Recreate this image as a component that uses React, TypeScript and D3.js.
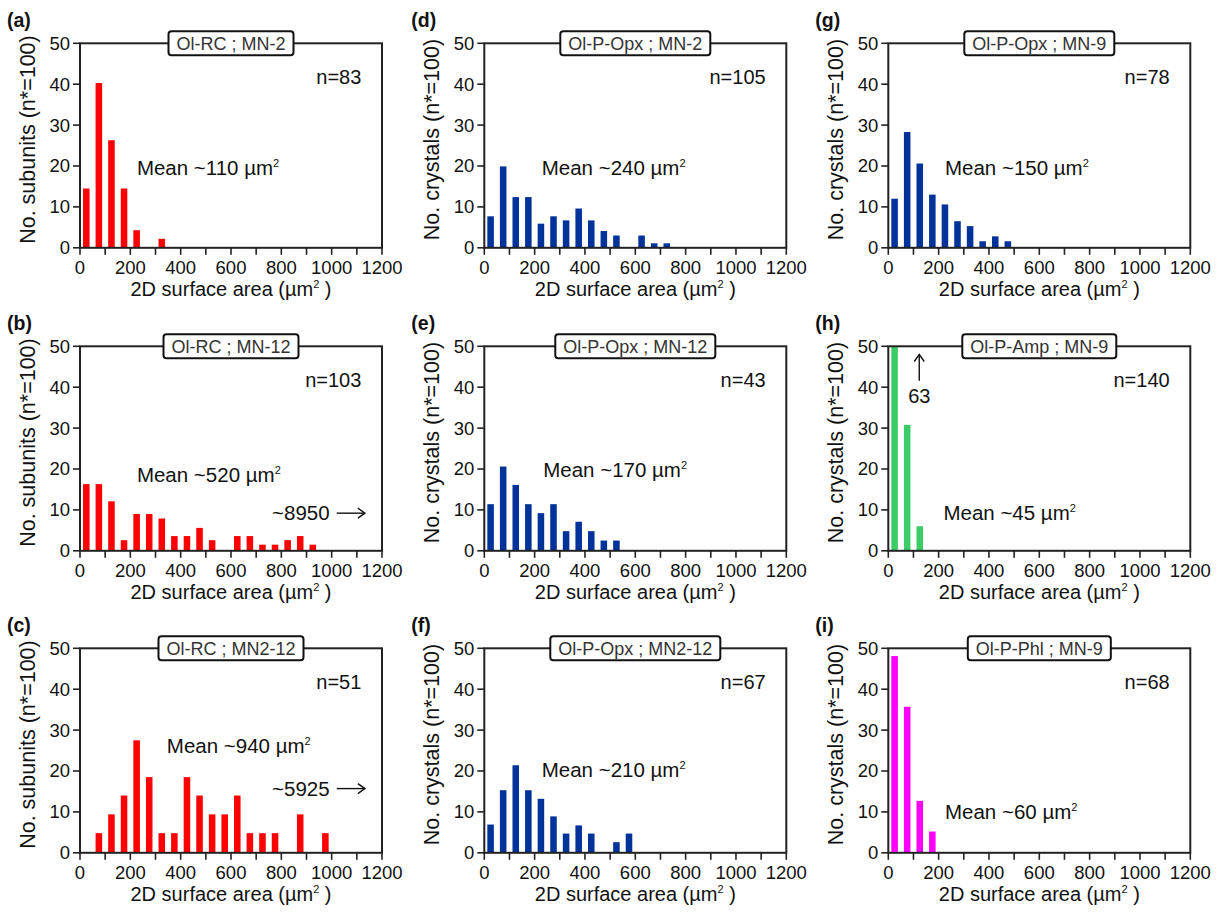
import React from 'react';
import * as d3 from 'd3';

// ---------- data (percent, n* = 100), bins of 50 µm² starting at 0 ----------
const BIN_WIDTH = 50;
const X_TICKS = [0, 100, 200, 300, 400, 500, 600, 700, 800, 900, 1000, 1100, 1200];
const X_TICK_LABELS = ['0', '', '200', '', '400', '', '600', '', '800', '', '1000', '', '1200'];
const Y_TICKS = [0, 10, 20, 30, 40, 50];

const valuesA = [14.5, 40.3, 26.3, 14.5, 4.3, 0, 2.2];
const valuesB = [16.3, 16.3, 12.1, 2.6, 9.0, 9.0, 7.9, 3.6, 3.6, 5.6, 2.6, 0, 3.6, 3.6, 1.5, 1.5, 2.6, 3.6, 1.5];
const valuesC = [0, 4.8, 9.4, 14.0, 27.5, 18.5, 4.8, 4.8, 18.5, 14.0, 9.4, 9.4, 14.0, 4.8, 4.8, 4.8, 0, 9.4, 0, 4.8];
const valuesD = [7.7, 19.9, 12.4, 12.4, 5.9, 7.7, 6.7, 9.6, 6.7, 4.1, 3.0, 0, 3.0, 1.1, 1.1];
const valuesE = [11.4, 20.6, 16.1, 11.4, 9.2, 11.4, 4.8, 7.1, 4.8, 2.5, 2.5];
const valuesF = [6.9, 15.3, 21.4, 15.3, 13.2, 8.9, 4.7, 6.7, 4.7, 0, 2.6, 4.7];
const valuesG = [12.0, 28.3, 20.6, 13.0, 10.6, 6.5, 5.3, 1.6, 2.8, 1.6];
const valuesH = [63, 30.8, 6.0];
const valuesI = [48.1, 35.7, 12.7, 5.2];

const panelLetters = ['a', 'b', 'c', 'd', 'e', 'f', 'g', 'h', 'i'];
const panelTitles = [
  'Ol-RC ; MN-2', 'Ol-RC ; MN-12', 'Ol-RC ; MN2-12',
  'Ol-P-Opx ; MN-2', 'Ol-P-Opx ; MN-12', 'Ol-P-Opx ; MN2-12',
  'Ol-P-Opx ; MN-9', 'Ol-P-Amp ; MN-9', 'Ol-P-Phl ; MN-9',
];
const panelN = [83, 103, 51, 105, 43, 67, 78, 140, 68];
const panelMeans = [110, 520, 940, 240, 170, 210, 150, 45, 60];
// mean label anchor (x in µm², y in %)
const meanPosX = [226, 226, 345, 228, 234, 228, 225, 219, 225];
const meanPosY = [17.9, 16.9, 24.3, 17.9, 18.1, 18.5, 17.9, 7.5, 8.3];
const yLabels = ['No. subunits (n*=100)', 'No. subunits (n*=100)', 'No. subunits (n*=100)',
  'No. crystals (n*=100)', 'No. crystals (n*=100)', 'No. crystals (n*=100)',
  'No. crystals (n*=100)', 'No. crystals (n*=100)', 'No. crystals (n*=100)'];
const panelValues = [valuesA, valuesB, valuesC, valuesD, valuesE, valuesF, valuesG, valuesH, valuesI];
const panelColors = ['#ff0000', '#ff0000', '#ff0000', '#003399', '#003399', '#003399', '#003399', '#3ccc66', '#ff00ff'];

// off-scale notes
const rightArrowPanels = [1, 2];
const rightArrowLabels = ['~8950', '~5925'];
const rightArrowY = [9.2, 15.7];
const upArrowPanel = 7;
const upArrowLabel = '63';

// ---------- layout ----------
const FONT = '"Liberation Sans", Arial, Helvetica, sans-serif';
const PLOT_W = 302;
const PLOT_H = 204.5;
const COL_LEFT = [80, 484.3, 888.3];
const ROW_TOP = [43.3, 346.3, 648.3];
const INK = '#222';

let measureCtx: CanvasRenderingContext2D | null = null;
function textWidth(t: string, font: string) {
  if (!measureCtx) measureCtx = document.createElement('canvas').getContext('2d');
  if (!measureCtx) return t.length * 9;
  measureCtx.font = font;
  return measureCtx.measureText(t).width;
}

function Panel({ idx }: { idx: number }) {
  const col = Math.floor(idx / 3);
  const row = idx % 3;
  const left = COL_LEFT[col];
  const top = ROW_TOP[row];
  const x = d3.scaleLinear().domain([0, 1200]).range([left, left + PLOT_W]);
  const y = d3.scaleLinear().domain([0, 50]).range([top + PLOT_H, top]);
  const values = panelValues[idx];
  const color = panelColors[idx];
  const half = BIN_WIDTH * 0.26;

  const title = panelTitles[idx];
  const titleFont = `18px ${FONT}`;
  const tw = textWidth(title, titleFont) + 16;
  const cx = x(600);

  const raIdx = rightArrowPanels.indexOf(idx);

  return (
    <g>
      {/* bars */}
      {values.map((v, i) => {
        if (!v) return null;
        const c = BIN_WIDTH * i + BIN_WIDTH / 2;
        const vv = Math.min(v, 50);
        return (
          <rect key={i} x={x(c - half)} width={x(c + half) - x(c - half)} y={y(vv)}
            height={y(0) - y(vv)} fill={color} />
        );
      })}
      {/* frame */}
      <rect x={left} y={top} width={PLOT_W} height={PLOT_H} fill="none" stroke={INK} strokeWidth={2} />
      {/* x ticks */}
      {X_TICKS.map((t, i) => (
        <g key={'xt' + t}>
          <line x1={x(t)} x2={x(t)} y1={y(0)} y2={y(0) + 7} stroke={INK} strokeWidth={1.6} />
          {X_TICK_LABELS[i] && (
            <text x={x(t)} y={y(0) + 26} textAnchor="middle" fontSize={18.5} fontFamily={FONT} fill="#111">
              {X_TICK_LABELS[i]}
            </text>
          )}
        </g>
      ))}
      {/* y ticks */}
      {Y_TICKS.map((t) => (
        <g key={'yt' + t}>
          <line x1={left - 7} x2={left} y1={y(t)} y2={y(t)} stroke={INK} strokeWidth={1.6} />
          <text x={left - 10} y={y(t)} dy="0.35em" textAnchor="end" fontSize={18.5} fontFamily={FONT} fill="#111">
            {t}
          </text>
        </g>
      ))}
      {/* axis titles */}
      <text x={cx} y={y(0) + 48} textAnchor="middle" fontSize={20} fontFamily={FONT} fill="#111">
        2D surface area (µm<tspan dy={-8} fontSize={11}>2</tspan><tspan dy={8}> )</tspan>
      </text>
      <text transform={`translate(${left - 53},${top + PLOT_H / 2 - 6}) rotate(-90)`} textAnchor="middle"
        dy="0.35em" fontSize={21.5} fontFamily={FONT} fill="#111">
        {yLabels[idx]}
      </text>
      {/* panel letter */}
      <text x={left - 73} y={top - 16} fontSize={19.5} fontWeight="bold" fontFamily={FONT} fill="#111">
        ({panelLetters[idx]})
      </text>
      {/* title box */}
      <rect x={cx - tw / 2} y={top - 12} width={tw} height={24} rx={3} ry={3} fill="#fff" stroke="#111" strokeWidth={2} />
      <text x={cx} y={top} dy="0.36em" textAnchor="middle" fontSize={18} fontFamily={FONT} fill="#333">
        {title}
      </text>
      {/* n */}
      <text x={x(1118)} y={y(40)} textAnchor="end" fontSize={20} fontFamily={FONT} fill="#111">
        n={panelN[idx]}
      </text>
      {/* mean */}
      <text x={x(meanPosX[idx])} y={y(meanPosY[idx])} fontSize={20.5} fontFamily={FONT} fill="#111">
        Mean ~{panelMeans[idx]} µm<tspan dy={-8} fontSize={11}>2</tspan>
      </text>
      {/* off-scale right arrow */}
      {raIdx >= 0 && (
        <g>
          <text x={x(763)} y={y(rightArrowY[raIdx])} dy="0.35em" fontSize={20.5} fontFamily={FONT} fill="#111">
            {rightArrowLabels[raIdx]}
          </text>
          <line x1={x(1020)} x2={x(1132)} y1={y(rightArrowY[raIdx])} y2={y(rightArrowY[raIdx])} stroke="#111" strokeWidth={1.4} />
          <polyline points={`${x(1132) - 7},${y(rightArrowY[raIdx]) - 5} ${x(1132)},${y(rightArrowY[raIdx])} ${x(1132) - 7},${y(rightArrowY[raIdx]) + 5}`}
            fill="none" stroke="#111" strokeWidth={1.4} />
        </g>
      )}
      {/* off-scale up arrow */}
      {idx === upArrowPanel && (
        <g>
          <line x1={x(123)} x2={x(123)} y1={y(48)} y2={y(41.6)} stroke="#111" strokeWidth={1.4} />
          <polyline points={`${x(123) - 5},${y(48) + 7} ${x(123)},${y(48)} ${x(123) + 5},${y(48) + 7}`}
            fill="none" stroke="#111" strokeWidth={1.4} />
          <text x={x(123)} y={y(36.2)} textAnchor="middle" fontSize={20} fontFamily={FONT} fill="#111">
            {upArrowLabel}
          </text>
        </g>
      )}
    </g>
  );
}

export default function App() {
  return (
    <svg width={1225} height={913} style={{ position: 'absolute', left: 0, top: 0, background: '#fff' }}>
      <rect x={0} y={0} width={1225} height={913} fill="#fff" />
      {panelLetters.map((_, i) => (
        <Panel key={i} idx={i} />
      ))}
    </svg>
  );
}
